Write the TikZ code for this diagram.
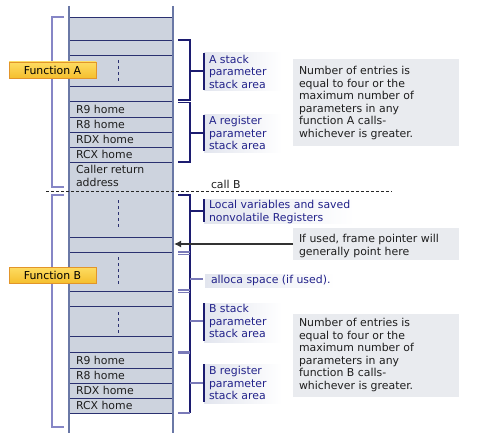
\documentclass[tikz,border=0pt]{standalone}
\usepackage{fontspec}
\setmainfont{DejaVu Sans}
\usetikzlibrary{arrows.meta}
\definecolor{stackfill}{HTML}{CDD3DE}
\definecolor{cellline}{HTML}{2A3070}
\definecolor{stackline}{HTML}{6A78A6}
\definecolor{brackA}{HTML}{8686C6}
\definecolor{navy}{HTML}{1C1C70}
\definecolor{tickpurple}{HTML}{7A7AB8}
\definecolor{labeltext}{HTML}{22228A}
\definecolor{labelbg}{HTML}{E2E5EE}
\definecolor{notebg}{HTML}{E9EBEF}
\definecolor{notetext}{HTML}{1E1E1E}
\definecolor{funtop}{HTML}{FDDC62}
\definecolor{funbot}{HTML}{F5BF2E}
\definecolor{funborder}{HTML}{E2952A}
\begin{document}
\begin{tikzpicture}[x=1pt,y=-1pt,
  every node/.style={inner sep=0pt, outer sep=0pt},
  basefont/.style={font=\fontsize{10.9}{12.5}\selectfont},
  celltxt/.style={basefont, text=notetext, anchor=west},
  multitxt/.style={basefont, align=left, anchor=north west},
  lbltxt/.style={multitxt, text=labeltext},
  notetxt/.style={multitxt, text=notetext},
  notebox/.style={fill=notebg, anchor=north west, minimum width=166pt},
  funlabel/.style={basefont, text=black, draw=funborder, line width=0.8pt,
    top color=funtop, bottom color=funbot, minimum width=87pt, minimum height=16pt},
  cellrule/.style={cellline, line width=0.9pt},
  stackedge/.style={stackline, line width=1.6pt},
  leftbrack/.style={brackA, line width=2pt},
  rbrack/.style={navy, line width=1.1pt},
  ptick/.style={tickpurple, line width=1.2pt},
  cutmark/.style={cellline, line width=0.9pt, dash pattern=on 3pt off 3pt},
  lblbg/.style={left color=labelbg, right color=white}
]
\useasboundingbox (0,0) rectangle (479,441);

% stack body
\fill[stackfill] (69,17) rectangle (173,413);
\foreach \y in {17,40,55,86,101,117,132,147,162,237,252,291,306,336,352,368,383,398,413}
  \draw[cellrule] (69,\y) -- (173,\y);
\draw[stackedge] (69,6) -- (69,433);
\draw[stackedge] (173,6) -- (173,433);

% elision marks
\draw[cutmark] (118,60) -- (118,81);
\draw[cutmark] (118,200) -- (118,227);
\draw[cutmark] (118,257) -- (118,284);
\draw[cutmark] (118,312) -- (118,333);

% call boundary
\draw[black!85, line width=0.8pt, dash pattern=on 3pt off 2pt] (46,191.5) -- (392,191.5);
\node[celltxt, text=notetext] (callb) at (211,184) {call B};

% cell texts, frame A
\node[celltxt] (a9) at (76,109) {R9 home};
\node[celltxt] (a8) at (76,124.5) {R8 home};
\node[celltxt] (adx) at (76,139.5) {RDX home};
\node[celltxt] (acx) at (76,154.5) {RCX home};
\node[notetxt] (ret) at (76,165.5) {Caller return\\address};

% cell texts, frame B
\node[celltxt] (b9) at (76,360) {R9 home};
\node[celltxt] (b8) at (76,375.5) {R8 home};
\node[celltxt] (bdx) at (76,390.5) {RDX home};
\node[celltxt] (bcx) at (76,405.5) {RCX home};

% left brackets and function labels
\draw[leftbrack] (64,17) -- (52,17) -- (52,187) -- (64,187);
\draw[leftbrack] (64,195) -- (52,195) -- (52,427) -- (64,427);
\node[funlabel] (fa) at (52.5,70) {Function A};
\node[funlabel] (fb) at (52.5,275) {Function B};

% right brackets, frame A
\draw[rbrack] (178,40) -- (190,40) -- (190,100) -- (178,100);
\draw[rbrack] (190,71) -- (204,71);
\draw[rbrack] (178,102.5) -- (190,102.5) -- (190,162) -- (178,162);
\draw[rbrack] (190,133) -- (204,133);

\shade[lblbg] (204,53) rectangle (282,91);
\draw[rbrack] (204,53) -- (204,90);
\node[lbltxt] (lastack) at (209,55) {A stack\\parameter\\stack area};

\shade[lblbg] (204,115) rectangle (282,152);
\draw[rbrack] (204,115) -- (204,151);
\node[lbltxt] (lareg) at (209,116.5) {A register\\parameter\\stack area};

% right brackets, frame B
\draw[rbrack] (178,195) -- (190,195) -- (190,413);
\draw[ptick] (178,252) -- (190,252);
\draw[ptick] (178,254.5) -- (190,254.5);
\draw[ptick] (178,290) -- (190,290);
\draw[ptick] (178,292.5) -- (190,292.5);
\draw[tickpurple, line width=3pt] (178,352) -- (190,352);
\draw[ptick] (178,413) -- (190,413);
\draw[rbrack] (190,211) -- (204,211);
\draw[ptick] (190,279) -- (203,279);
\draw[ptick] (190,321) -- (204,321);
\draw[ptick] (190,383) -- (204,383);

\shade[lblbg] (204,199) rectangle (354,223);
\draw[rbrack] (204,199) -- (204,222);
\node[lbltxt] (llocal) at (209,200.5) {Local variables and saved\\nonvolatile Registers};

\shade[lblbg] (205,274) rectangle (335,287);
\node[celltxt, text=labeltext] (lalloca) at (211,280) {alloca space (if used).};

\shade[lblbg] (204,303) rectangle (282,342);
\draw[rbrack] (204,303) -- (204,341);
\node[lbltxt] (lbstack) at (209,304.5) {B stack\\parameter\\stack area};

\shade[lblbg] (204,364) rectangle (282,403);
\draw[rbrack] (204,364) -- (204,402);
\node[lbltxt] (lbreg) at (209,366.5) {B register\\parameter\\stack area};

% notes
\node[notebox, minimum height=87pt] (na) at (293,59) {};
\node[notetxt] (nat) at (299,66.5) {Number of entries is\\equal to four or the\\maximum number of\\parameters in any\\function A calls-\\whichever is greater.};

\node[notebox, minimum height=32pt] (nfp) at (293,228) {};
\node[notetxt] (nfpt) at (299,234.5) {If used, frame pointer will\\generally point here};

\node[notebox, minimum height=83pt] (nb) at (293,314) {};
\node[notetxt] (nbt) at (299,318.5) {Number of entries is\\equal to four or the\\maximum number of\\parameters in any\\function B calls-\\whichever is greater.};

% frame pointer arrow
\coordinate (fpt) at (174,244);
\draw[black!80, line width=1.8pt, -{Latex[length=7pt,width=7pt]}] (nfp.west) -- (fpt);
\end{tikzpicture}
\end{document}
